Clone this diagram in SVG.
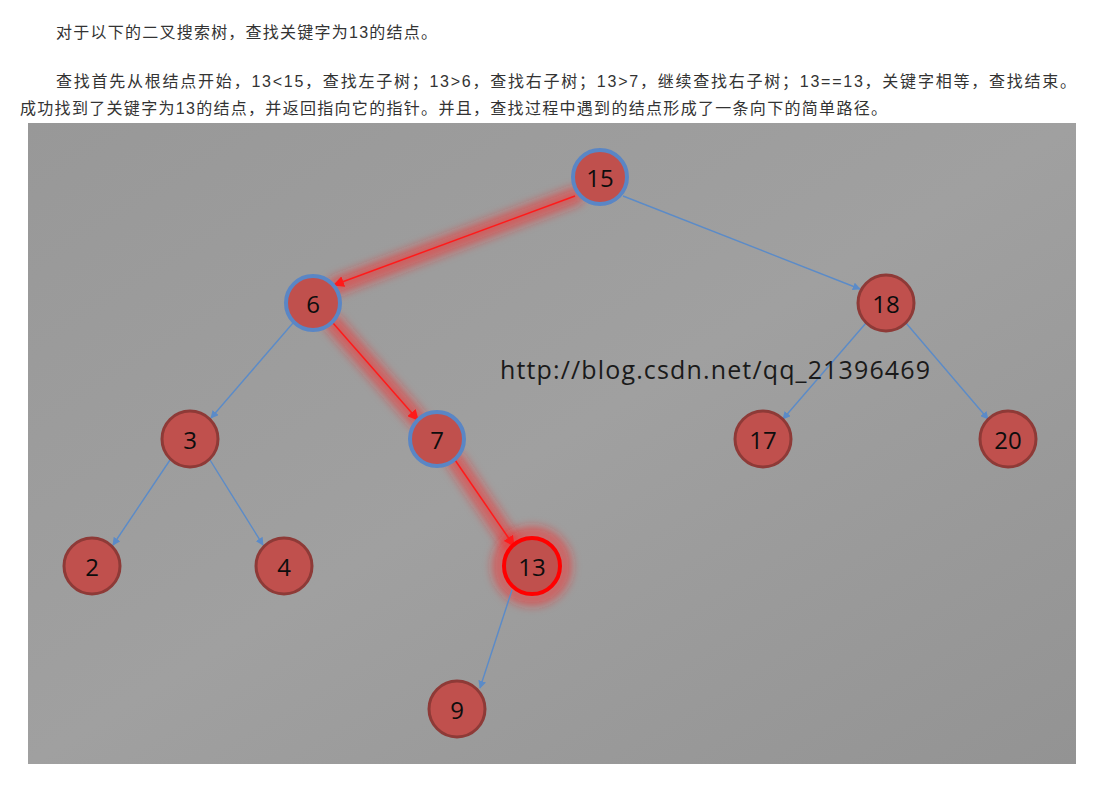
<svg xmlns="http://www.w3.org/2000/svg" width="1094" height="788" viewBox="0 0 1094 788">
<style>
.hdr{font-family:"Liberation Sans","Noto Sans CJK SC",sans-serif;font-size:16px;fill:#333}
.n circle{fill:#c0504d;stroke:#8e3a37;stroke-width:3}
.n.b circle{stroke:#5a86c5;stroke-width:4}
.n.r circle{stroke:#ff0000;stroke-width:4}
.n text{font-family:"Open Sans","Liberation Sans",sans-serif;font-size:24px;fill:#0d0d0d;text-anchor:middle;dominant-baseline:central}
.e{stroke:#5b8bc8;stroke-width:1.4;fill:none;marker-end:url(#ab)}
.er{stroke:#ff1a1a;stroke-width:1.5;fill:none;marker-end:url(#ar)}
.g{stroke:#ff2020;stroke-opacity:0.5;stroke-width:18;fill:none;stroke-linecap:round;filter:url(#blur)}
</style>
<defs>
<linearGradient id="bg" x1="0" y1="0" x2="1" y2="1">
<stop offset="0" stop-color="#989898"/>
<stop offset="0.5" stop-color="#a0a0a0"/>
<stop offset="1" stop-color="#939393"/>
</linearGradient>
<filter id="blur" x="-50%" y="-50%" width="200%" height="200%"><feGaussianBlur stdDeviation="5"/></filter>
<marker id="ab" viewBox="0 0 10 10" refX="9" refY="5" markerWidth="8" markerHeight="8" markerUnits="userSpaceOnUse" orient="auto"><path d="M0,0L10,5L0,10z" fill="#5b8bc8"/></marker>
<marker id="ar" viewBox="0 0 10 10" refX="9" refY="5" markerWidth="11" markerHeight="11" markerUnits="userSpaceOnUse" orient="auto"><path d="M0,0L10,5L0,10z" fill="#ff1a1a"/></marker>
</defs>
<rect width="1094" height="788" fill="#ffffff"/>
<text class="hdr" x="56" y="38" textLength="381">对于以下的二叉搜索树，查找关键字为13的结点。</text>
<text class="hdr" x="56" y="87" textLength="1020">查找首先从根结点开始，13&lt;15，查找左子树；13&gt;6，查找右子树；13&gt;7，继续查找右子树；13==13，关键字相等，查找结束。</text>
<text class="hdr" x="20" y="114" textLength="867">成功找到了关键字为13的结点，并返回指向它的指针。并且，查找过程中遇到的结点形成了一条向下的简单路径。</text>
<rect x="28" y="123" width="1048" height="641" fill="url(#bg)"/>
<g id="glow">
<line class="g" x1="575" y1="196" x2="336" y2="286"/>
<line class="g" x1="333" y1="323" x2="418" y2="420"/>
<line class="g" x1="455" y1="460" x2="512" y2="545"/>
<circle cx="532" cy="566" r="33" fill="none" stroke="#ff2020" stroke-opacity="0.5" stroke-width="14" filter="url(#blur)"/>
</g>
<g id="connectors">
<line class="er" x1="575" y1="196" x2="334" y2="285"/>
<line class="e" x1="623" y1="196" x2="860" y2="289"/>
<line class="e" x1="293" y1="323" x2="211" y2="418"/>
<line class="er" x1="333" y1="323" x2="418" y2="420"/>
<line class="e" x1="866" y1="323" x2="783" y2="419"/>
<line class="e" x1="906" y1="323" x2="988" y2="419"/>
<line class="e" x1="170" y1="460" x2="113" y2="545"/>
<line class="e" x1="210" y1="460" x2="263" y2="545"/>
<line class="er" x1="455" y1="460" x2="514" y2="546"/>
<line class="e" x1="512" y1="590" x2="480" y2="688"/>
</g>
<text x="500" y="379" font-family="Open Sans, Liberation Sans, sans-serif" font-size="25" fill="#1a1a1a" textLength="430">http://blog.csdn.net/qq_21396469</text>
<g id="n15" class="n b"><circle cx="600" cy="177" r="27"/><text x="600" y="177">15</text></g>
<g id="n6" class="n b"><circle cx="313" cy="303" r="27"/><text x="313" y="303">6</text></g>
<g id="n18" class="n"><circle cx="886" cy="303" r="28"/><text x="886" y="303">18</text></g>
<g id="n3" class="n"><circle cx="190" cy="439" r="28"/><text x="190" y="439">3</text></g>
<g id="n7" class="n b"><circle cx="437" cy="439" r="27"/><text x="437" y="439">7</text></g>
<g id="n17" class="n"><circle cx="763" cy="439" r="28"/><text x="763" y="439">17</text></g>
<g id="n20" class="n"><circle cx="1008" cy="439" r="28"/><text x="1008" y="439">20</text></g>
<g id="n2" class="n"><circle cx="92" cy="566" r="28"/><text x="92" y="566">2</text></g>
<g id="n4" class="n"><circle cx="284" cy="566" r="28"/><text x="284" y="566">4</text></g>
<g id="n13" class="n r"><circle cx="532" cy="566" r="28"/><text x="532" y="566">13</text></g>
<g id="n9" class="n"><circle cx="457" cy="709" r="28"/><text x="457" y="709">9</text></g>
</svg>
